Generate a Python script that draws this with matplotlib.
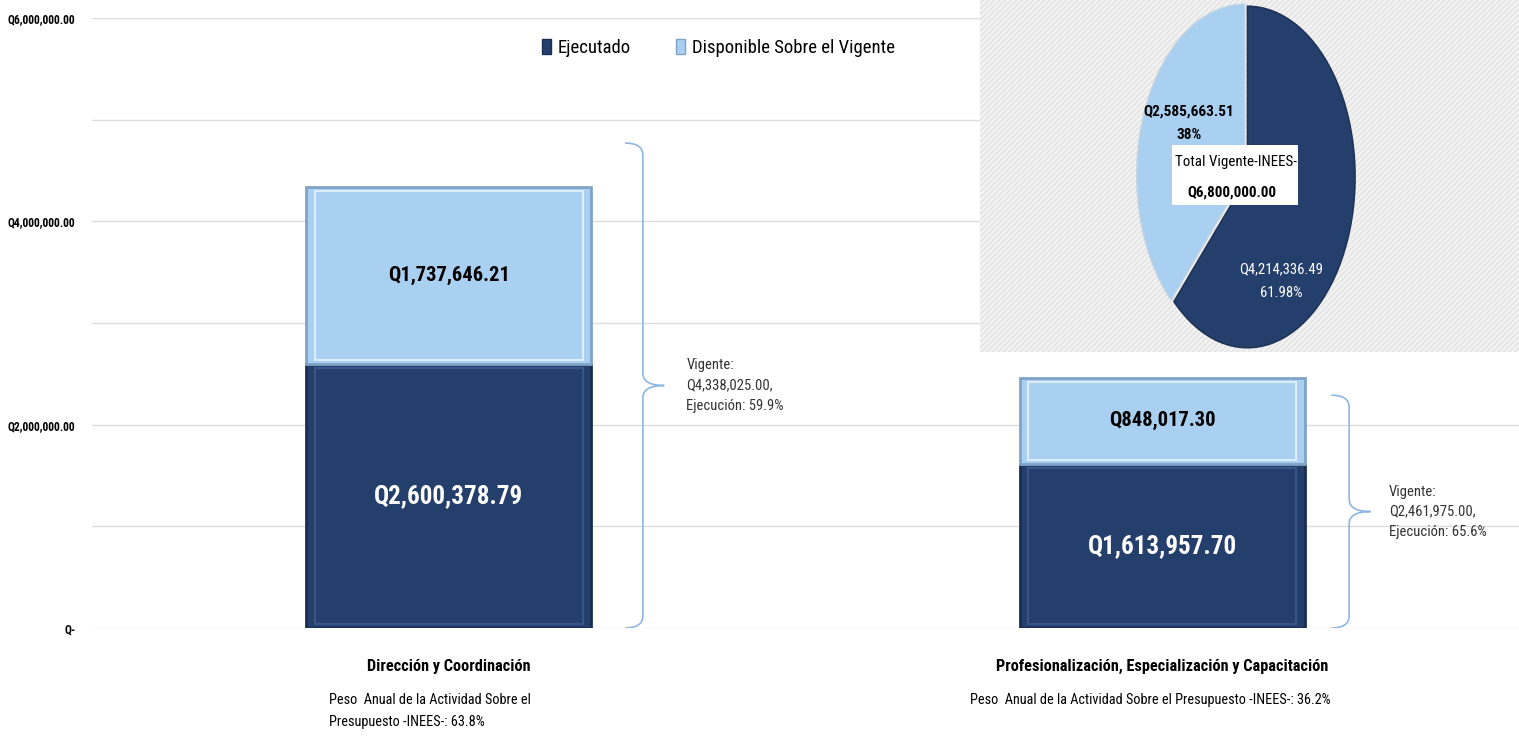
import matplotlib
matplotlib.use("Agg")
import matplotlib.pyplot as plt
from matplotlib import font_manager
from matplotlib.path import Path
from matplotlib.patches import PathPatch, Patch
from matplotlib.ticker import MultipleLocator, FixedLocator

# prefer a narrow sans face if one is available
_installed = {f.name for f in font_manager.fontManager.ttflist}
_narrow = [n for n in ["Liberation Sans Narrow", "DejaVu Sans Condensed",
                       "Roboto Condensed", "Open Sans Condensed",
                       "Noto Sans Condensed", "Arial Narrow"]
           if n in _installed]
NARROW = bool(_narrow)
plt.rcParams['font.family'] = _narrow[:1] + ['DejaVu Sans']
SCALE = 1.0 if NARROW else 0.85

# --- data ---------------------------------------------------------------
categories = ["Dirección y Coordinación",
              "Profesionalización, Especialización y Capacitación"]
ejecutado = [2600378.79, 1613957.70]
disponible = [1737646.21, 848017.30]
vigente = [4338025.00, 2461975.00]
ejecucion_pct = [59.9, 65.6]
peso_pct = [63.8, 36.2]

pie_labels = ["Ejecutado", "Disponible Sobre el Vigente"]
pie_values = [4214336.49, 2585663.51]
pie_pct = ["61.98%", "38%"]
total_vigente = 6800000.00

ytick_values = [0, 2000000, 4000000, 6000000]
ytick_labels = ["Q-", "Q2,000,000.00", "Q4,000,000.00", "Q6,000,000.00"]

# --- styling ------------------------------------------------------------
DARK = "#253F6D"
DARK_EDGE = "#1A2E52"
LIGHT = "#A9CFF1"
LIGHT_EDGE = "#7FA3C6"
BRACE = "#8DB7E2"
GRID = "#DCDCDC"


def fs(size):
    return size * SCALE


def money(v):
    return "Q{:,.2f}".format(v)


fig = plt.figure(figsize=(15.19, 7.5), dpi=100)
ax = fig.add_axes([0.0606, 0.1627, 0.9394, 0.8133])

x = list(range(len(categories)))
width = 0.40

bars_e = ax.bar(x, ejecutado, width, color=DARK, edgecolor=DARK_EDGE,
                linewidth=2, zorder=3, label=pie_labels[0])
bars_d = ax.bar(x, disponible, width, bottom=ejecutado, color=LIGHT,
                edgecolor=LIGHT_EDGE, linewidth=2, zorder=3,
                label=pie_labels[1])

# inner bevel outlines
for b, col in [(bars_e, "#3A5585"), (bars_d, "#DDEEFB")]:
    for r in b:
        ax.add_patch(plt.Rectangle((r.get_x() + 0.012, r.get_y() + 40000),
                                   r.get_width() - 0.024,
                                   r.get_height() - 80000,
                                   fill=False, edgecolor=col, linewidth=1.5,
                                   zorder=4))

# value labels inside segments
for i in x:
    ax.text(i, ejecutado[i] / 2, money(ejecutado[i]), ha="center",
            va="center", color="white", fontsize=fs(18), fontweight="bold",
            zorder=5)
    ax.text(i, ejecutado[i] + disponible[i] / 2, money(disponible[i]),
            ha="center", va="center", color="black", fontsize=fs(14.8),
            fontweight="bold", zorder=5)


def brace(axis, xb, y0, y1, arm=0.025, tip=0.03, d=120000):
    ym = (y0 + y1) / 2
    verts = [
        (xb - arm, y1), (xb, y1), (xb, y1 - d),
        (xb, ym + d),
        (xb, ym), (xb + tip, ym),
        (xb, ym), (xb, ym - d),
        (xb, y0 + d),
        (xb, y0), (xb - arm, y0),
    ]
    codes = [Path.MOVETO, Path.CURVE3, Path.CURVE3,
             Path.LINETO,
             Path.CURVE3, Path.CURVE3,
             Path.CURVE3, Path.CURVE3,
             Path.LINETO,
             Path.CURVE3, Path.CURVE3]
    axis.add_patch(PathPatch(Path(verts, codes), fill=False,
                             edgecolor=BRACE, linewidth=1.2, zorder=2))
    return ym


brace_spans = [(0, 4770000), (0, 2290000)]
brace_offset = [0.272, 0.262]
text_offset = [0.333, 0.318]
for i in x:
    ym = brace(ax, i + brace_offset[i], *brace_spans[i])
    ax.text(i + text_offset[i], ym,
            "Vigente:\n{},\nEjecución: {:.1f}%".format(money(vigente[i]),
                                                       ejecucion_pct[i]),
            ha="left", va="center", fontsize=fs(10.5), color="#333333",
            linespacing=1.55)

# axes
ax.set_xlim(-0.5, 1.5)
ax.set_ylim(0, 6000000)
ax.yaxis.set_major_locator(FixedLocator(ytick_values))
ax.set_yticklabels(ytick_labels, fontsize=fs(8.4), fontweight="bold")
ax.yaxis.set_minor_locator(MultipleLocator(1000000))
ax.grid(axis="y", which="both", color=GRID, linewidth=1, zorder=0)
ax.tick_params(axis="y", which="both", length=0, pad=12)
ax.set_xticks(x)
ax.set_xticklabels(categories, fontsize=fs(11.7), fontweight="bold")
ax.tick_params(axis="x", length=0, pad=22)
for s in ax.spines.values():
    s.set_visible(False)

# annual weight notes
ax.text(-0.168, -0.106, "Peso  Anual de la Actividad Sobre el\n"
        "Presupuesto -INEES-: {:.1f}%".format(peso_pct[0]),
        transform=ax.get_xaxis_transform(), ha="left", va="top",
        fontsize=fs(10.3), linespacing=1.75)
ax.text(0.983, -0.106, "Peso  Anual de la Actividad Sobre el Presupuesto "
        "-INEES-: {:.1f}%".format(peso_pct[1]),
        transform=ax.get_xaxis_transform(), ha="center", va="top",
        fontsize=fs(10.3))

# legend
handles = [Patch(facecolor=DARK, edgecolor=DARK_EDGE),
           Patch(facecolor=LIGHT, edgecolor=LIGHT_EDGE)]
fig.legend(handles, pie_labels, loc="center", bbox_to_anchor=(0.473, 0.936),
           ncol=2, frameon=False, fontsize=fs(13.5), handlelength=0.5,
           handleheight=0.85, handletextpad=0.37, columnspacing=2.4)

# --- pie inset ----------------------------------------------------------
pax = fig.add_axes([0.645, 0.531, 0.355, 0.469])
pax.set_facecolor("#F1F1F1")
pax.add_patch(plt.Rectangle((0, 0), 1, 1, transform=pax.transAxes,
                            facecolor="#F3F3F3", edgecolor="#E2E2E2",
                            hatch="//////", linewidth=0, zorder=0))
pax.set_xticks([])
pax.set_yticks([])
for s in pax.spines.values():
    s.set_visible(False)

pie_ax = fig.add_axes([0.7469, 0.525, 0.1487, 0.478])
pie_ax.set_axis_off()
wedges, _ = pie_ax.pie(pie_values, colors=[DARK, LIGHT], startangle=90,
                       counterclock=False, explode=[0, 0.03],
                       wedgeprops=dict(edgecolor="#BFD3E6", linewidth=1.2))
wedges[0].set_edgecolor("#1F3358")
pie_ax.set_aspect("auto")
pie_ax.set_xlim(-1.05, 1.05)
pie_ax.set_ylim(-1.05, 1.05)

pie_ax.text(-0.545, 0.315, "{}\n{}".format(money(pie_values[1]), pie_pct[1]),
            ha="center", va="center", multialignment="center",
            fontsize=fs(11), fontweight="bold", color="black",
            linespacing=1.85)
pie_ax.text(0.31, -0.61, "{}\n{}".format(money(pie_values[0]), pie_pct[0]),
            ha="center", va="center", multialignment="center",
            fontsize=fs(10.6), color="white", linespacing=1.85)
pie_ax.add_patch(plt.Rectangle((-0.70, -0.165), 1.17, 0.355,
                               facecolor="white", edgecolor="none", zorder=5))
pie_ax.text(-0.674, 0.09, "Total Vigente-INEES-", ha="left", va="center",
            fontsize=fs(10.8), zorder=6)
pie_ax.text(-0.56, -0.09, money(total_vigente), ha="left", va="center",
            fontsize=fs(10.8), fontweight="bold", zorder=6)

fig.savefig("out.png", dpi=100, facecolor="white")
